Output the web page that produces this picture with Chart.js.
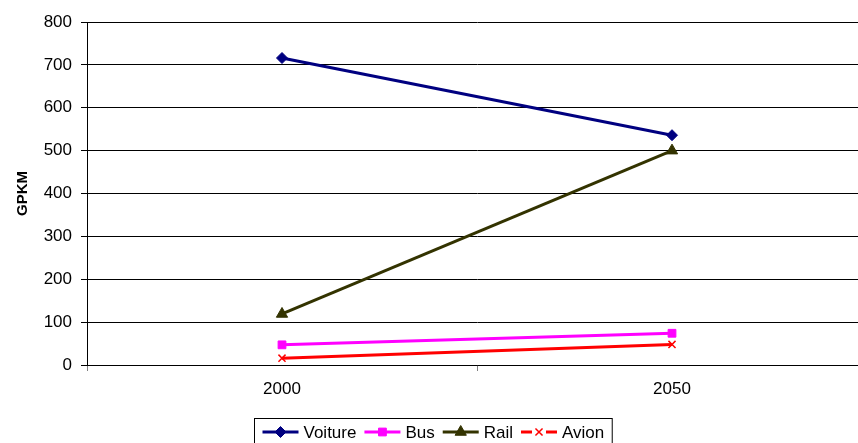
<!DOCTYPE html>
<html>
<head>
<meta charset="utf-8">
<script src="https://cdn.jsdelivr.net/npm/chart.js@4/dist/chart.umd.min.js"></script>
<style>
  html, body { margin: 0; padding: 0; background: #fff; overflow: hidden; }
  /* plot area runs a little past the right edge of the window */
  #wrap { width: 867px; height: 443px; position: relative; }
</style>
</head>
<body>
<div id="wrap"><canvas id="chart"></canvas></div>
<script>
const years = ['2000', '2050'];
const voiture = [716, 536];
const bus = [47, 74];
const rail = [119, 500];
const avion = [16, 48];
const yTicks = [0, 100, 200, 300, 400, 500, 600, 700, 800];

const FONT = '"Liberation Sans", Arial, sans-serif';
const FONT_SIZE = 17;

const zeroPad = () => ({ left: 0, top: 0, right: 0, bottom: 0 });

// boxed legend row under the axis: line + marker + label per series
const boxLegend = {
  id: 'boxLegend',
  afterDraw(chart) {
    const ctx = chart.ctx;
    const sets = chart.data.datasets;
    const lineLen = 36, gapLine = 5, gapItem = 8, padX = 8;
    ctx.save();
    ctx.font = FONT_SIZE + 'px ' + FONT;
    let total = padX * 2;
    sets.forEach((ds, i) => {
      total += lineLen + gapLine + ctx.measureText(ds.label).width;
      if (i < sets.length - 1) total += gapItem;
    });
    const x0 = Math.round(432.5 - total / 2) + 0.5;
    ctx.strokeStyle = '#000';
    ctx.lineWidth = 1;
    ctx.strokeRect(x0, 418.5, total, 30);
    const cy = 432;
    let x = x0 + padX;
    sets.forEach(ds => {
      ctx.strokeStyle = ds.borderColor;
      ctx.lineWidth = 3;
      ctx.beginPath();
      if (ds.pointStyle === 'crossRot') {
        ctx.moveTo(x, cy); ctx.lineTo(x + 11, cy);
        ctx.moveTo(x + lineLen - 11, cy); ctx.lineTo(x + lineLen, cy);
      } else {
        ctx.moveTo(x, cy); ctx.lineTo(x + lineLen, cy);
      }
      ctx.stroke();
      ctx.fillStyle = ds.pointBackgroundColor;
      ctx.strokeStyle = ds.pointBorderColor;
      ctx.lineWidth = ds.pointBorderWidth;
      Chart.helpers.drawPoint(ctx, {
        pointStyle: ds.pointStyle,
        radius: ds.pointRadius,
        borderWidth: ds.pointBorderWidth
      }, x + lineLen / 2, cy);
      x += lineLen + gapLine;
      ctx.fillStyle = '#000';
      ctx.textBaseline = 'middle';
      ctx.textAlign = 'left';
      ctx.fillText(ds.label, x, cy + 1);
      x += ctx.measureText(ds.label).width + gapItem;
    });
    ctx.restore();
  }
};

function series(label, data, color, style, radius, bw) {
  return {
    label: label,
    data: data,
    borderColor: color,
    backgroundColor: color,
    pointBackgroundColor: color,
    pointBorderColor: color,
    borderWidth: 3,
    pointStyle: style,
    pointRadius: radius,
    pointHoverRadius: radius,
    pointBorderWidth: bw,
    tension: 0,
    clip: false
  };
}

const datasets = [
  series('Voiture', voiture, '#000080', 'rectRot', 5.5, 1),
  series('Bus', bus, '#FF00FF', 'rect', 5.5, 1),
  series('Rail', rail, '#333300', 'triangle', 6.5, 1),
  series('Avion', avion, '#FF0000', 'crossRot', 5, 1.5)
];

new Chart(document.getElementById('chart'), {
  type: 'line',
  data: { labels: years, datasets: datasets },
  plugins: [boxLegend],
  options: {
    responsive: true,
    maintainAspectRatio: false,
    animation: false,
    events: [],
    layout: {
      autoPadding: false,
      padding: { top: 22, right: 0, bottom: 38, left: 0 }
    },
    plugins: {
      legend: { display: false },
      tooltip: { enabled: false }
    },
    scales: {
      x: {
        offset: true,
        grid: {
          offset: true,
          drawOnChartArea: false,
          tickLength: 6,
          color: '#808080'
        },
        border: { color: '#000', width: 1 },
        ticks: { color: '#000', font: { family: FONT, size: FONT_SIZE }, padding: 8 },
        afterFit(scale) {
          scale.height = 40;
          scale.getPadding = zeroPad;
        }
      },
      y: {
        min: 0,
        max: 800,
        afterBuildTicks(scale) { scale.ticks = yTicks.map(v => ({ value: v })); },
        grid: { color: '#000', tickLength: 6, lineWidth: 1 },
        border: { color: '#000', width: 1 },
        ticks: { color: '#000', font: { family: FONT, size: FONT_SIZE }, padding: 9 },
        title: {
          display: true,
          text: 'GPKM',
          color: '#000',
          font: { family: FONT, size: 15, weight: 'bold' },
          padding: { top: 14, bottom: 0 }
        },
        afterFit(scale) {
          scale.width = 87;
          scale.getPadding = zeroPad;
        }
      }
    }
  }
});
</script>
</body>
</html>
